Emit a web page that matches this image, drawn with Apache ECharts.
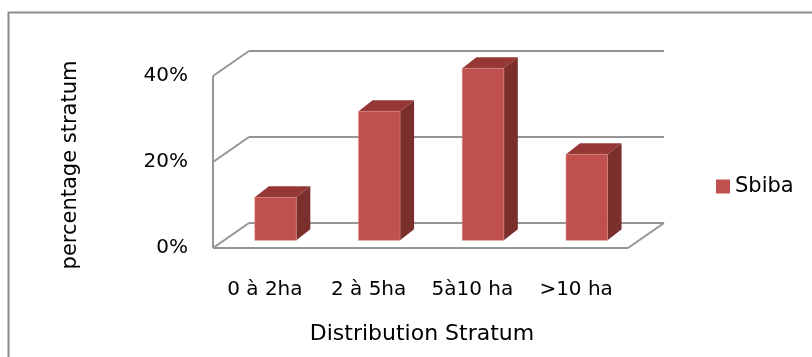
<!DOCTYPE html>
<html>
<head>
<meta charset="utf-8">
<script src="https://cdn.jsdelivr.net/npm/echarts@6/dist/echarts.min.js"></script>
<style>
  html, body { margin: 0; padding: 0; background: #fff; }
  #chart { width: 812px; height: 357px; }
</style>
</head>
<body>
<div id="chart"></div>
<script>
// Farm size classes and their share of the Sbiba sample (percent)
var categories = ['0 à 2ha', '2 à 5ha', '5à10 ha', '>10 ha'];
var sbiba = [10, 30, 40, 20];
var yTicks = [0, 20, 40];
var seriesName = 'Sbiba';

var FONT = 'DejaVu Sans';
var WALL = '#959595';
var FRONT = '#C0504D', TOP = '#943735', SIDE = '#7A2F2D';

// depth of the 3D box (back wall offset) and of the bars
var WALL_DX = 36, WALL_DY = -25;
var BAR_OX = 10.7, BAR_OY = -7.7;   // bar front face sits a little behind the front edge
var BAR_DX = 14, BAR_DY = -11;

var chart = echarts.init(document.getElementById('chart'));

function wallItem(params, api) {
  var cs = params.coordSys;
  var t = api.value(0);
  var y = api.coord([0, t])[1];
  var L = cs.x, R = cs.x + cs.width;
  var lineStyle = { stroke: WALL, lineWidth: 2, fill: null };
  var children = [
    { type: 'line', shape: { x1: L + WALL_DX, y1: y + WALL_DY, x2: R + WALL_DX, y2: y + WALL_DY }, style: lineStyle },
    { type: 'line', shape: { x1: L, y1: y, x2: L + WALL_DX, y2: y + WALL_DY }, style: lineStyle }
  ];
  if (t === yTicks[0]) {
    children.push({ type: 'line', shape: { x1: L, y1: y, x2: R, y2: y }, style: lineStyle });
    children.push({ type: 'line', shape: { x1: R, y1: y, x2: R + WALL_DX, y2: y + WALL_DY }, style: lineStyle });
  }
  if (t === yTicks[yTicks.length - 1]) {
    var y0 = api.coord([0, yTicks[0]])[1];
    children.push({ type: 'line', shape: { x1: L, y1: y0, x2: L, y2: y }, style: lineStyle });
  }
  return { type: 'group', children: children };
}

function barItem(params, api) {
  var idx = api.value(0);
  var v = api.value(1);
  var base = api.coord([idx, 0]);
  var topP = api.coord([idx, v]);
  var band = api.size([1, 0])[0];
  var w = band * 0.4;
  var x0 = base[0] - w / 2 + BAR_OX, x1 = x0 + w;
  var yb = base[1] + BAR_OY, yt = topP[1] + BAR_OY;
  return {
    type: 'group',
    children: [
      { type: 'polygon', shape: { points: [[x0, yt], [x1, yt], [x1 + BAR_DX, yt + BAR_DY], [x0 + BAR_DX, yt + BAR_DY]] },
        style: { fill: TOP } },
      { type: 'polygon', shape: { points: [[x1, yt], [x1 + BAR_DX, yt + BAR_DY], [x1 + BAR_DX, yb + BAR_DY], [x1, yb]] },
        style: { fill: SIDE } },
      { type: 'rect', shape: { x: x0, y: yt, width: w, height: yb - yt },
        style: { fill: FRONT, stroke: '#D7857F', lineWidth: 0.6 } }
    ]
  };
}

chart.setOption({
  animation: false,
  backgroundColor: '#fff',
  grid: { left: 213, top: 76, width: 415, height: 172 },
  xAxis: {
    type: 'category',
    data: categories,
    axisLine: { show: false },
    axisTick: { show: false },
    axisLabel: { fontFamily: FONT, fontSize: 20, color: '#000', margin: 32, interval: 0, hideOverlap: false }
  },
  yAxis: {
    type: 'value',
    min: 0, max: 40, interval: 20,
    axisLine: { show: false },
    axisTick: { show: false },
    splitLine: { show: false },
    axisLabel: {
      fontFamily: FONT, fontSize: 20, color: '#000', margin: 25,
      padding: [8, 0, 0, 0],
      formatter: function (v) { return v + '%'; }
    }
  },
  legend: {
    data: [{ name: seriesName, icon: 'rect' }],
    left: 716, top: 176,
    itemWidth: 14, itemHeight: 14, itemGap: 0, padding: 0,
    textStyle: { fontFamily: FONT, fontSize: 21, color: '#000' }
  },
  graphic: [
    { type: 'rect', left: 6, top: 10, shape: { width: 900, height: 400 },
      style: { fill: null, stroke: '#8C8C8C', lineWidth: 2 }, silent: true, z: -1 },
    { type: 'text', x: 71, y: 165, rotation: Math.PI / 2,
      style: { text: 'percentage stratum', fontFamily: FONT, fontSize: 21, fill: '#000',
               textAlign: 'center', textVerticalAlign: 'middle' } },
    { type: 'text', x: 422, y: 334,
      style: { text: 'Distribution Stratum', fontFamily: FONT, fontSize: 22, fill: '#000',
               textAlign: 'center', textVerticalAlign: 'middle' } }
  ],
  series: [
    {
      type: 'custom',
      name: 'walls',
      renderItem: wallItem,
      data: yTicks.map(function (t) { return [t]; }),
      encode: { y: 0 },
      silent: true,
      z: 1
    },
    {
      type: 'custom',
      name: seriesName,
      itemStyle: { color: FRONT },
      renderItem: barItem,
      data: sbiba.map(function (v, i) { return [i, v]; }),
      encode: { x: 0, y: 1 },
      z: 2
    }
  ]
});
</script>
</body>
</html>
